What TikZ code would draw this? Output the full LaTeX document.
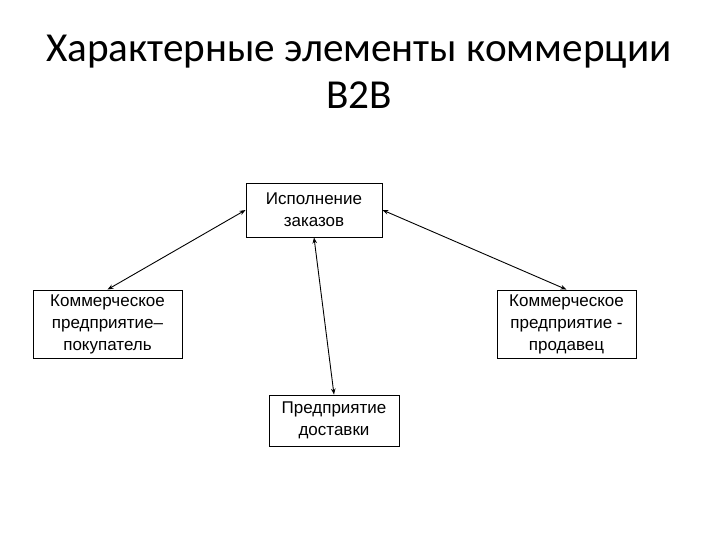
\documentclass[tikz,border=0pt]{standalone}
\usepackage{fontspec}
\setmainfont{Carlito}
\newfontfamily\boxfont{Liberation Sans}
\usepackage{xcolor}
\usepackage{tikz}
\usetikzlibrary{arrows.meta}

\tikzset{
    blok/.style={draw=black, line width=0.9pt, fill=white, inner sep=0pt,
        align=center, font=\boxfont\fontsize{17}{22}\selectfont},
    svyaz/.style={line width=0.9pt, {Stealth[length=6pt,width=4.5pt]}-{Stealth[length=6pt,width=4.5pt]}}
}

\begin{document}
\begin{tikzpicture}[x=1pt, y=-1pt]
\useasboundingbox (0,0) rectangle (720,540);

% title
\node[font=\fontsize{41.2}{47}\selectfont, align=center] (title) at (359,72)
    {Характерные элементы коммерции\\B2B};

% boxes
\node[blok, minimum width=136pt, minimum height=54pt] (zakaz) at (314,210)
    {Исполнение\\заказов};
\node[blok, minimum width=149pt, minimum height=68pt] (pokup) at (107.5,324)
    {Коммерческое\\предприятие–\\покупатель};
\node[blok, minimum width=139pt, minimum height=68pt] (prodav) at (566.5,324)
    {Коммерческое\\предприятие -\\продавец};
\node[blok, minimum width=130pt, minimum height=51pt] (dostav) at (334,420.5)
    {Предприятие\\доставки};

% links
\draw[svyaz] (zakaz.west) -- (pokup.north);
\draw[svyaz] (zakaz.east) -- (prodav.north);
\draw[svyaz] (zakaz.south) -- (dostav.north);
\end{tikzpicture}
\end{document}
